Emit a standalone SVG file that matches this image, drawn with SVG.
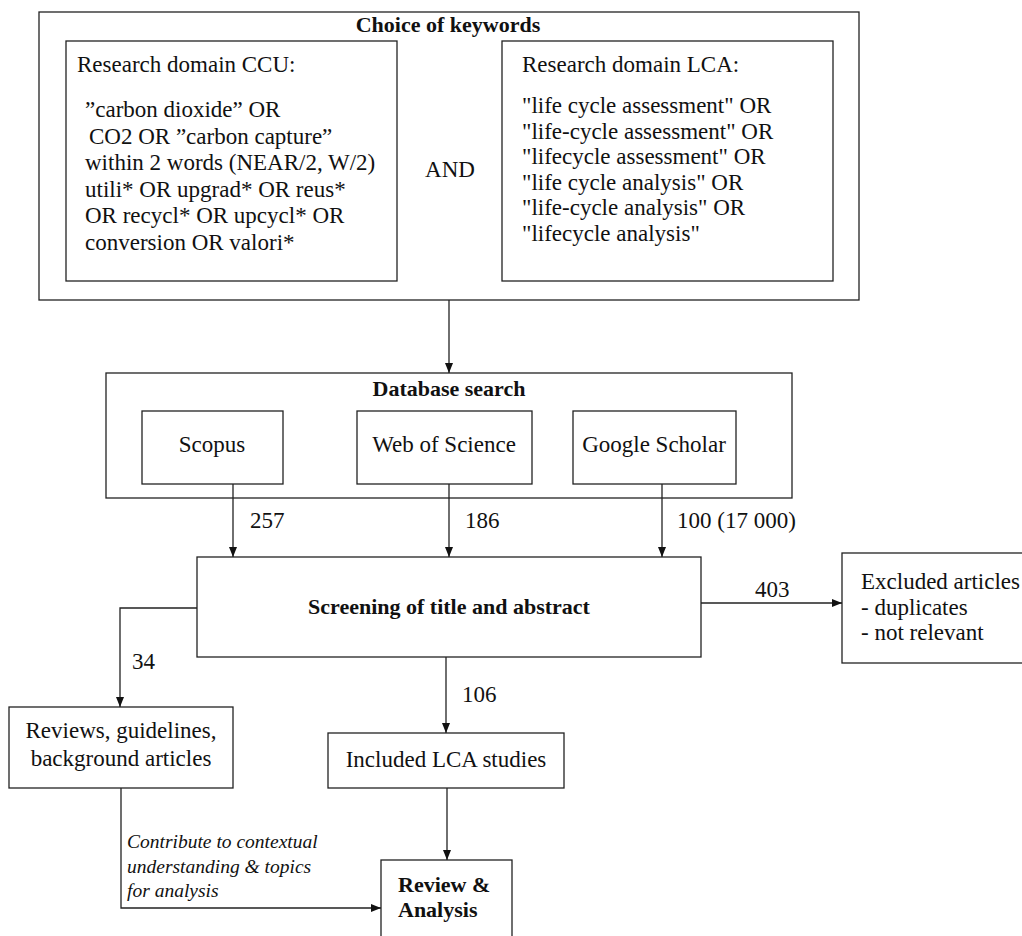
<svg xmlns="http://www.w3.org/2000/svg" width="1022" height="936" viewBox="0 0 1022 936">
<style>
.box{fill:#fff;stroke:#222;stroke-width:1.3}
.t{font-family:"Liberation Serif","Times New Roman",serif;font-size:23px;fill:#111}
.b{font-family:"Liberation Serif","Times New Roman",serif;font-size:22px;font-weight:bold;fill:#111}
.i{font-family:"Liberation Serif","Times New Roman",serif;font-size:19.5px;font-style:italic;fill:#111}
.c{text-anchor:middle}
.ln{fill:none;stroke:#222;stroke-width:1.3}
</style>
<defs>
<marker id="ah" markerUnits="userSpaceOnUse" markerWidth="10" markerHeight="8" refX="10" refY="4" orient="auto">
<path d="M0,0 L10,4 L0,8 z" fill="#111"/>
</marker>
</defs>
<rect width="1022" height="936" fill="#fff"/>

<g id="keywords">
<rect class="box" x="39" y="12" width="820" height="288"/>
<text class="b c" x="448" y="32">Choice of keywords</text>
</g>
<g id="ccu">
<rect class="box" x="66" y="41" width="331" height="240"/>
<text class="t" x="77" y="72">Research domain CCU:</text>
<text class="t" x="85" y="117">”carbon dioxide” OR</text>
<text class="t" x="89" y="143.5">CO2 OR ”carbon capture”</text>
<text class="t" x="85" y="170">within 2 words (NEAR/2, W/2)</text>
<text class="t" x="85" y="196.5">utili* OR upgrad* OR reus*</text>
<text class="t" x="85" y="223">OR recycl* OR upcycl* OR</text>
<text class="t" x="85" y="249.5">conversion OR valori*</text>
</g>
<g id="and">
<text class="t c" x="450" y="177">AND</text>
</g>
<g id="lca">
<rect class="box" x="502" y="41" width="331" height="240"/>
<text class="t" x="522" y="72">Research domain LCA:</text>
<text class="t" x="522" y="113">"life cycle assessment" OR</text>
<text class="t" x="522" y="138.5">"life-cycle assessment" OR</text>
<text class="t" x="522" y="164">"lifecycle assessment" OR</text>
<text class="t" x="522" y="189.5">"life cycle analysis" OR</text>
<text class="t" x="522" y="215">"life-cycle analysis" OR</text>
<text class="t" x="522" y="240.5">"lifecycle analysis"</text>
</g>

<g id="database">
<rect class="box" x="106" y="373" width="686" height="125"/>
<text class="b c" x="449" y="396">Database search</text>
</g>
<g id="scopus">
<rect class="box" x="142" y="411" width="141" height="73"/>
<text class="t c" x="212" y="452">Scopus</text>
</g>
<g id="wos">
<rect class="box" x="357" y="411" width="175" height="73"/>
<text class="t c" x="444" y="452">Web of Science</text>
</g>
<g id="gs">
<rect class="box" x="573" y="411" width="163" height="73"/>
<text class="t c" x="654" y="452">Google Scholar</text>
</g>

<g id="screening">
<rect class="box" x="197" y="557" width="504" height="100"/>
<text class="b c" x="449" y="614">Screening of title and abstract</text>
</g>
<g id="excluded">
<rect class="box" x="842" y="553" width="200" height="110"/>
<text class="t" x="861" y="589">Excluded articles</text>
<text class="t" x="861" y="615">- duplicates</text>
<text class="t" x="861" y="640">- not relevant</text>
</g>
<g id="reviews">
<rect class="box" x="9" y="707" width="224" height="81"/>
<text class="t c" x="121" y="738">Reviews, guidelines,</text>
<text class="t c" x="121" y="766">background articles</text>
</g>
<g id="included">
<rect class="box" x="328" y="733" width="236" height="55"/>
<text class="t c" x="446" y="767">Included LCA studies</text>
</g>
<g id="review">
<rect class="box" x="381" y="860" width="131" height="90"/>
<text class="b" x="398" y="892">Review &amp;</text>
<text class="b" x="398" y="917">Analysis</text>
</g>

<g id="connectors">
<path class="ln" d="M449,300 V373" marker-end="url(#ah)"/>
<path class="ln" d="M233,484 V557" marker-end="url(#ah)"/>
<path class="ln" d="M449,484 V557" marker-end="url(#ah)"/>
<path class="ln" d="M662,484 V557" marker-end="url(#ah)"/>
<path class="ln" d="M197,608 H120 V707" marker-end="url(#ah)"/>
<path class="ln" d="M446,657 V733" marker-end="url(#ah)"/>
<path class="ln" d="M701,603 H842" marker-end="url(#ah)"/>
<path class="ln" d="M447,788 V860" marker-end="url(#ah)"/>
<path class="ln" d="M121,788 V908 H381" marker-end="url(#ah)"/>
<text class="t" x="250" y="528">257</text>
<text class="t" x="465" y="528">186</text>
<text class="t" x="677" y="528">100 (17 000)</text>
<text class="t" x="132" y="669">34</text>
<text class="t" x="462" y="702">106</text>
<text class="t" x="755" y="597">403</text>
<text class="i" x="127" y="848">Contribute to contextual</text>
<text class="i" x="127" y="873">understanding &amp; topics</text>
<text class="i" x="127" y="897">for analysis</text>
</g>
</svg>
